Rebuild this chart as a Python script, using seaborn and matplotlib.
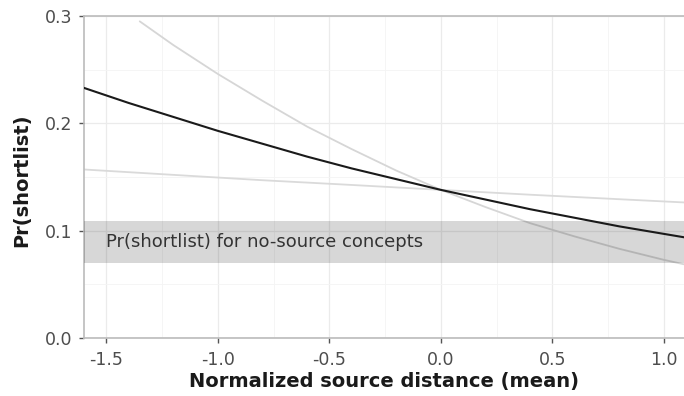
import matplotlib
matplotlib.use("Agg")
import matplotlib.pyplot as plt
import numpy as np
import pandas as pd
import seaborn as sns

# values
x_main = [-1.6, -1.4, -1.2, -1.0, -0.8, -0.6, -0.4, -0.2, 0.0, 0.2, 0.4, 0.6, 0.8, 1.0, 1.1]
p_main = [0.233, 0.219, 0.206, 0.193, 0.181, 0.169, 0.158, 0.148, 0.138, 0.129, 0.120, 0.112, 0.104, 0.097, 0.0935]

x_steep = [-1.35, -1.2, -1.0, -0.8, -0.6, -0.4, -0.2, 0.0, 0.2, 0.4, 0.6, 0.8, 1.0, 1.1]
p_steep = [0.295, 0.273, 0.246, 0.221, 0.197, 0.176, 0.156, 0.138, 0.122, 0.107, 0.0946, 0.0831, 0.0728, 0.0682]

x_flat = [-1.6, -1.2, -0.8, -0.4, 0.0, 0.4, 0.8, 1.1]
p_flat = [0.157, 0.152, 0.147, 0.1426, 0.138, 0.1335, 0.1293, 0.1262]

band_low, band_high = 0.070, 0.109
band_label = "Pr(shortlist) for no-source concepts"

x_ticks = [-1.5, -1.0, -0.5, 0.0, 0.5, 1.0]
y_ticks = [0.0, 0.1, 0.2, 0.3]

sns.set_style("white")
plt.rcParams["font.family"] = ["DejaVu Sans"]

fig = plt.figure(figsize=(6.84, 3.96), dpi=100)
ax = fig.add_axes([84 / 684, 1 - 338 / 396, 1 - 84 / 684, (338 - 16) / 396])

ax.set_xlim(-1.6, 1.09)
ax.set_ylim(0, 0.3)

# grid
ax.set_xticks(x_ticks)
ax.set_yticks(y_ticks)
ax.set_xticks([-1.25, -0.75, -0.25, 0.25, 0.75], minor=True)
ax.set_yticks([0.05, 0.15, 0.25], minor=True)
ax.grid(which="major", color="#ebebeb", linewidth=0.9, zorder=0)
ax.grid(which="minor", color="#f4f4f4", linewidth=0.6, zorder=0)
ax.set_axisbelow(True)

df_steep = pd.DataFrame({"x": x_steep, "p": p_steep})
df_flat = pd.DataFrame({"x": x_flat, "p": p_flat})
df_main = pd.DataFrame({"x": x_main, "p": p_main})

sns.lineplot(data=df_steep, x="x", y="p", ax=ax, color="#d6d6d6", linewidth=1.3, zorder=2)
sns.lineplot(data=df_flat, x="x", y="p", ax=ax, color="#dadada", linewidth=1.3, zorder=2)

ax.axhspan(band_low, band_high, color="black", alpha=0.155, linewidth=0, zorder=3)
ax.text(-1.5, (band_low + band_high) / 2, band_label, fontsize=13, color="#333333",
        va="center", ha="left", zorder=4)

sns.lineplot(data=df_main, x="x", y="p", ax=ax, color="#1a1a1a", linewidth=1.5, zorder=5)

ax.set_xticklabels(["-1.5", "-1.0", "-0.5", "0.0", "0.5", "1.0"])
ax.set_yticklabels(["0.0", "0.1", "0.2", "0.3"])
ax.tick_params(which="major", direction="out", length=3.6, width=1, color="#555555",
               labelsize=12.5, labelcolor="#4d4d4d", left=True, bottom=True)
ax.tick_params(axis="x", which="major", pad=6)
ax.tick_params(axis="y", which="major", pad=5)
ax.tick_params(which="minor", length=0)

for side in ["left", "bottom", "top"]:
    ax.spines[side].set_visible(True)
    ax.spines[side].set_color("#bbbbbb")
    ax.spines[side].set_linewidth(1.2)
ax.spines["right"].set_visible(False)

ax.set_xlabel("Normalized source distance (mean)", fontsize=14, fontweight="bold",
              color="#1a1a1a", labelpad=2)
ax.set_ylabel("Pr(shortlist)", fontsize=14, fontweight="bold", color="#1a1a1a")
ax.yaxis.set_label_coords(-0.088, 0.49)

fig.savefig("out.png", dpi=100)
